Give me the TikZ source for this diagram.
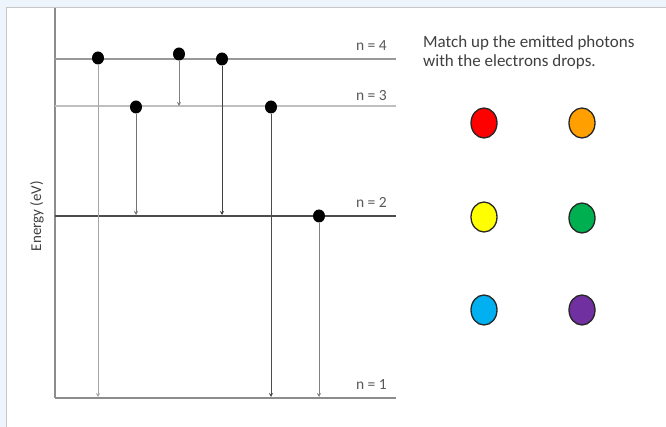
\documentclass[tikz,border=0pt]{standalone}
\usepackage{fontspec}
\setmainfont{Carlito}
\usetikzlibrary{arrows.meta,shapes.geometric}
\definecolor{bgblue}{HTML}{EDF4FB}
\definecolor{txt}{HTML}{404040}
\definecolor{lbl}{HTML}{595959}
\definecolor{cred}{HTML}{FF0000}
\definecolor{corange}{HTML}{FFA000}
\definecolor{cyellow}{HTML}{FFFF00}
\definecolor{cgreen}{HTML}{00B050}
\definecolor{cblue}{HTML}{00B0F0}
\definecolor{cpurple}{HTML}{7030A0}
\tikzset{
  electron/.style={ellipse, fill=black, minimum width=12pt, minimum height=13pt, inner sep=0pt},
  photon/.style={ellipse, draw=black!85, line width=1.3pt, minimum width=26pt, minimum height=30pt, inner sep=0pt},
  drop/.style={line width=0.9pt, -{Stealth[length=4pt,width=4pt]}},
  lvllabel/.style={anchor=base east, inner sep=0pt, text=lbl, font=\fontsize{15.5}{18}\selectfont},
  qtext/.style={anchor=base west, inner sep=0pt, text=txt, font=\fontsize{17}{20}\selectfont}
}
\begin{document}
\begin{tikzpicture}[x=1pt,y=-1pt]
\useasboundingbox (0,0) rectangle (666,427);
\fill[bgblue] (0,0) rectangle (666,427);
\fill[white] (6.5,8) rectangle (666,427);
\draw[black!22, line width=1pt] (6.5,427) -- (6.5,8) -- (666,8);

% axis
\coordinate (axtop) at (55,8);
\coordinate (axbot) at (55,398);
\draw[black!45, line width=1.4pt] (axtop) -- (axbot);
\node[rotate=90, anchor=base, inner sep=0pt, text=txt, font=\fontsize{15}{18}\selectfont] (elabel) at (41,216) {Energy (eV)};

% levels
\coordinate (l4a) at (55,59);  \coordinate (l4b) at (396,59);
\coordinate (l3a) at (55,106); \coordinate (l3b) at (396,106);
\coordinate (l2a) at (55,216); \coordinate (l2b) at (396,216);
\coordinate (l1a) at (55,398); \coordinate (l1b) at (396,398);
\draw[black!40, line width=2.2pt] (l4a) -- (l4b);
\draw[black!25, line width=1.8pt] (l3a) -- (l3b);
\draw[black!70, line width=1.4pt] (l2a) -- (l2b);
\draw[black!45, line width=1.8pt] (l1a) -- (l1b);

\node[lvllabel] (n4) at (387,51) {n = 4};
\node[lvllabel] (n3) at (387,101) {n = 3};
\node[lvllabel] (n2) at (387,208) {n = 2};
\node[lvllabel] (n1) at (387,389) {n = 1};

% electrons
\node[electron] (e1) at (98,58) {};
\node[electron] (e2) at (179,54) {};
\node[electron] (e3) at (222,59) {};
\node[electron] (e4) at (136,107) {};
\node[electron] (e5) at (271,107) {};
\node[electron] (e6) at (319,216) {};

% drop ends
\coordinate (t1) at (98,397);
\coordinate (t2) at (179,106);
\coordinate (t3) at (222,215);
\coordinate (t4) at (136,215);
\coordinate (t5) at (271,397);
\coordinate (t6) at (319,397);
\draw[drop, black!35] (e1) -- (t1);
\draw[drop, black!50] (e2) -- (t2);
\draw[drop, black!75] (e3) -- (t3);
\draw[drop, black!55] (e4) -- (t4);
\draw[drop, black!70] (e5) -- (t5);
\draw[drop, black!50] (e6) -- (t6);

% question text
\node[qtext] (q1) at (423,48) {Match up the emitted photons};
\node[qtext] (q2) at (423,67) {with the electrons drops.};

% photons
\node[photon, fill=cred] (p1) at (484,123) {};
\node[photon, fill=corange] (p2) at (582,123) {};
\node[photon, fill=cyellow] (p3) at (484,217) {};
\node[photon, fill=cgreen] (p4) at (582,218) {};
\node[photon, fill=cblue] (p5) at (484,310) {};
\node[photon, fill=cpurple] (p6) at (582,310) {};
\end{tikzpicture}
\end{document}
